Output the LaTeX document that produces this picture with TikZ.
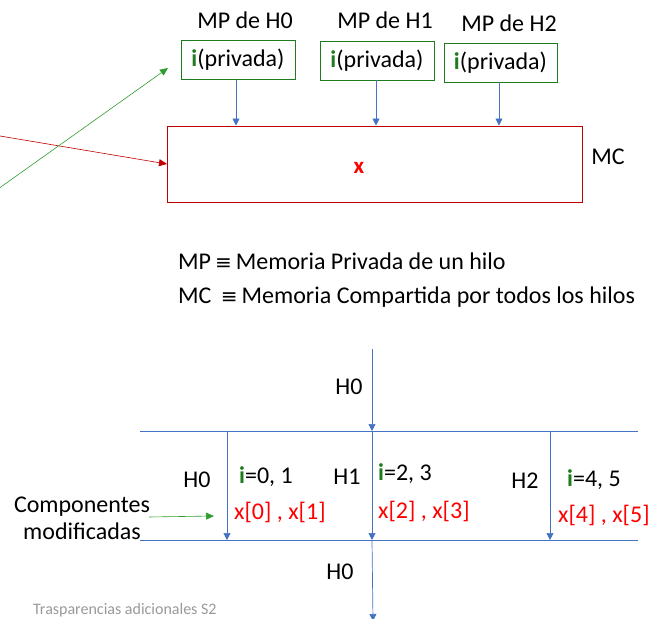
\documentclass[tikz,border=0pt]{standalone}
\usepackage{fontspec}
\setmainfont{Carlito}
\newfontfamily\symfont{DejaVu Sans}
\usetikzlibrary{arrows.meta}
\definecolor{cblue}{HTML}{4472C4}
\definecolor{cgreen}{HTML}{1E7B1E}
\definecolor{lgreen}{HTML}{2E9B2E}
\definecolor{cred}{HTML}{C00000}
\definecolor{xred}{HTML}{FF0000}
\newcommand{\gi}{\textcolor{cgreen}{\textbf{i}}}
\newcommand{\eqv}{{\symfont\fontsize{20}{24}\selectfont ≡}}
\begin{document}
\begin{tikzpicture}[x=1pt,y=-1pt,
  txt/.style={inner sep=0pt,font=\fontsize{24}{28}\selectfont},
  rtxt/.style={txt,text=xred},
  pbox/.style={draw=cgreen,line width=0.9pt,minimum width=114pt,minimum height=39pt,inner sep=0pt,font=\fontsize{24}{28}\selectfont},
  mcbox/.style={draw=cred,line width=1pt,minimum width=415pt,minimum height=76pt,inner sep=0pt},
  barrow/.style={draw=cblue,line width=0.7pt,-{Triangle[length=7pt,width=7pt]}},
  bline/.style={draw=cblue,line width=0.9pt},
  redarrow/.style={draw=cred,line width=0.6pt,-{Triangle[length=8pt,width=7pt]}},
  grarrow/.style={draw=lgreen,line width=0.6pt,-{Triangle[length=8pt,width=7pt]}}]
\useasboundingbox (0,0) rectangle (654,619);
% top part
\node[txt] (l0) at (245,20) {MP de H0};
\node[txt] (l1) at (385,20) {MP de H1};
\node[txt] (l2) at (509,23) {MP de H2};
\node[pbox] (b0) at (238,60) {\gi(privada)};
\node[pbox] (b1) at (377,60.5) {\gi(privada)};
\node[pbox,minimum width=113pt] (b2) at (500.5,62.5) {\gi(privada)};
\node[mcbox] (mc) at (374.5,164) {};
\node[txt,text=xred,font=\fontsize{23}{27}\selectfont\bfseries] (xx) at (359,168) {x};
\node[txt] (mclab) at (608,157) {MC};
\draw[barrow] (236,80) coordinate (s0) -- (s0 |- mc.north);
\draw[barrow] (376,80) coordinate (s1) -- (s1 |- mc.north);
\draw[barrow] (499,82) coordinate (s2) -- (s2 |- mc.north);
\coordinate (rs) at (0,136);
\coordinate (re) at (167,164);
\draw[redarrow] (rs) -- (re);
\coordinate (gs) at (-2,189);
\coordinate (ge) at (168,68);
\draw[grarrow] (gs) -- (ge);
% legend
\node[txt,anchor=west] (lg1) at (178,261) {MP\,\eqv\,Memoria Privada de un hilo};
\node[txt,anchor=west] (lg2) at (178,297) {MC \,\eqv\,Memoria Compartida por todos los hilos};
% lower part
\coordinate (tl) at (140,431); \coordinate (tr) at (638,431);
\coordinate (bl) at (140,540); \coordinate (br) at (638,540);
\draw[bline] (tl) -- (tr);
\draw[bline] (bl) -- (br);
\coordinate (v0) at (372,349);
\draw[barrow] (v0) -- (v0 |- tl);
\coordinate (a0) at (227,431); \coordinate (a1) at (372,431); \coordinate (a2) at (550,431);
\draw[barrow] (a0) -- (a0 |- bl);
\draw[barrow] (a1) -- (a1 |- bl);
\draw[barrow] (a2) -- (a2 |- bl);
\coordinate (d0) at (372,540); \coordinate (d1) at (373,621);
\draw[barrow] (d0) -- (d1);
\node[txt] (h0a) at (349,387) {H0};
\node[txt] (h0b) at (197,480) {H0};
\node[txt] (h1) at (347,477) {H1};
\node[txt] (h2) at (525,481) {H2};
\node[txt] (h0c) at (340,572) {H0};
\node[txt,anchor=west] (i0) at (239,477) {\gi=0, 1};
\node[txt,anchor=west] (i1) at (378,474) {\gi=2, 3};
\node[txt,anchor=west] (i2) at (567,480) {\gi=4, 5};
\node[rtxt,anchor=west] (x0) at (234,512) {x[0] , x[1]};
\node[rtxt,anchor=west] (x1) at (378,511) {x[2] , x[3]};
\node[rtxt,anchor=west] (x2) at (558,515) {x[4] , x[5]};
\node[txt,align=center,font=\fontsize{24}{27}\selectfont] (comp) at (82,518) {Componentes\\modificadas};
\coordinate (cs) at (149,517); \coordinate (ce) at (214,516);
\draw[grarrow] (cs) -- (ce);
\node[txt,text=gray!80,font=\fontsize{16}{18}\selectfont,anchor=west] (foot) at (33,610) {Trasparencias adicionales S2};
\end{tikzpicture}
\end{document}
